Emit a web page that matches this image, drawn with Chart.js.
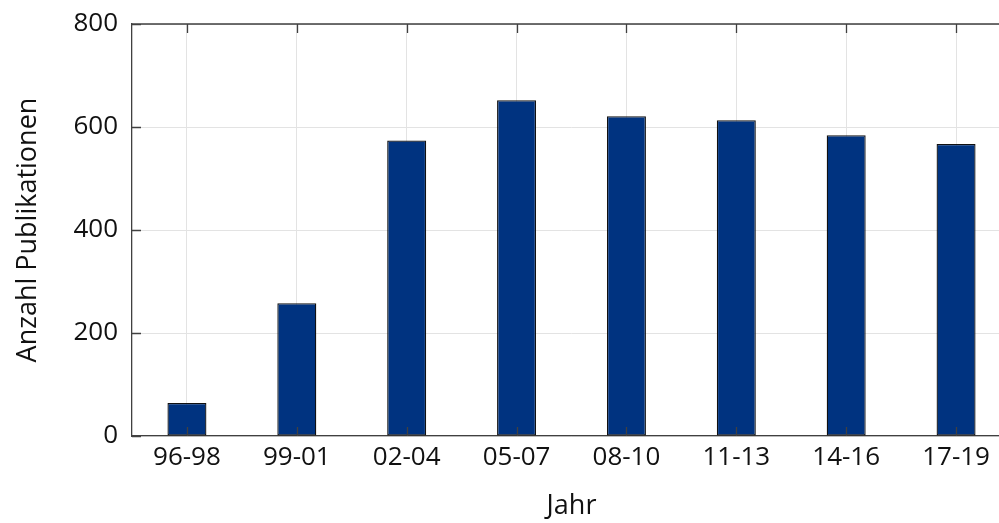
<!DOCTYPE html>
<html>
<head>
<meta charset="utf-8">
<script src="https://cdn.jsdelivr.net/npm/chart.js@4"></script>
<style>
  html, body { margin: 0; padding: 0; background: #fff; overflow: hidden; }
  #wrap { width: 1011px; height: 523px; }
</style>
</head>
<body>
<div id="wrap"><canvas id="myChart"></canvas></div>
<script>
const categories = ["96-98", "99-01", "02-04", "05-07", "08-10", "11-13", "14-16", "17-19"];
const publications = [64, 258, 574, 652, 621, 613, 584, 567];
const yTicks = [0, 200, 400, 600, 800];

const axisColor = "#404040";
const fontFamily = "'Open Sans', sans-serif";

// inward tick marks + top border line, like the original plot
const frameTicks = {
  id: "frameTicks",
  afterDatasetsDraw(chart) {
    const { ctx, chartArea, scales } = chart;
    const len = 9;
    ctx.save();
    ctx.strokeStyle = axisColor;
    ctx.lineWidth = 1.3;
    ctx.beginPath();
    ctx.moveTo(chartArea.left, chartArea.top);
    ctx.lineTo(chartArea.right, chartArea.top);
    categories.forEach((c, i) => {
      const x = Math.round(scales.x.getPixelForValue(i)) + 0.5;
      ctx.moveTo(x, chartArea.bottom);
      ctx.lineTo(x, chartArea.bottom - len);
      ctx.moveTo(x, chartArea.top);
      ctx.lineTo(x, chartArea.top + len);
    });
    yTicks.forEach((v) => {
      const y = Math.round(scales.y.getPixelForValue(v)) + 0.5;
      ctx.moveTo(chartArea.left, y);
      ctx.lineTo(chartArea.left + len, y);
    });
    ctx.stroke();
    ctx.restore();
  },
};

const ctx = document.getElementById("myChart");

new Chart(ctx, {
  type: "bar",
  data: {
    labels: categories,
    datasets: [
      {
        label: "Anzahl Publikationen",
        data: publications,
        backgroundColor: "#003380",
        borderColor: "#111111",
        borderWidth: 1.3,
        borderSkipped: false,
        barPercentage: 0.355,
        categoryPercentage: 1,
      },
    ],
  },
  options: {
    responsive: true,
    maintainAspectRatio: false,
    animation: false,
    layout: { padding: { top: 24, right: 0, left: 0, bottom: 0 } },
    plugins: {
      legend: { display: false },
      tooltip: { enabled: false },
    },
    scales: {
      x: {
        grid: { color: "#e3e3e3", lineWidth: 1, drawTicks: false, offset: false },
        border: { color: axisColor, width: 1.3 },
        ticks: {
          color: "#111",
          font: { family: fontFamily, size: 26 },
          padding: 6,
          maxRotation: 0,
        },
        title: {
          display: true,
          text: "Jahr",
          color: "#111",
          font: { family: fontFamily, size: 27 },
          padding: { top: 2, bottom: 0 },
        },
        afterFit(scale) {
          scale.height = 87;
          scale.paddingLeft = 0;
          scale.paddingRight = 0;
        },
      },
      y: {
        min: 0,
        max: 800,
        afterBuildTicks(scale) {
          scale.ticks = yTicks.map((v) => ({ value: v }));
        },
        grid: { color: "#e3e3e3", lineWidth: 1, drawTicks: false },
        border: { color: axisColor, width: 1.3 },
        ticks: {
          color: "#111",
          font: { family: fontFamily, size: 26 },
          padding: 14,
        },
        title: {
          display: true,
          text: "Anzahl Publikationen",
          color: "#111",
          font: { family: fontFamily, size: 27 },
          padding: { top: 12, bottom: 18 },
        },
        afterFit(scale) {
          scale.width = 132;
          scale.paddingTop = 0;
          scale.paddingBottom = 0;
        },
      },
    },
  },
  plugins: [frameTicks],
});
</script>
</body>
</html>
